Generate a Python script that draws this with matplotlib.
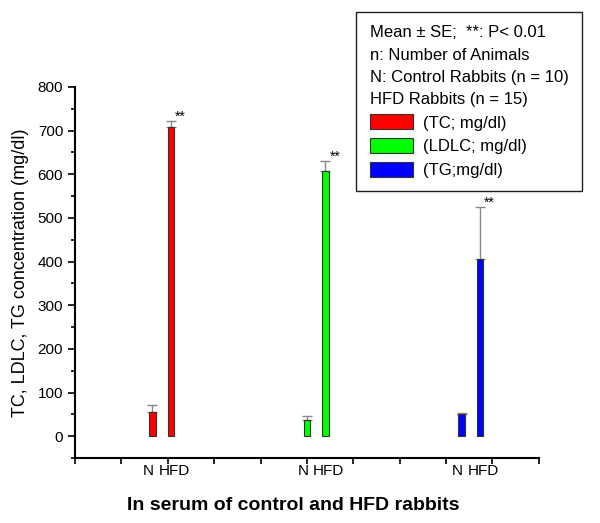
import numpy as np
import matplotlib
matplotlib.use('Agg')
from matplotlib import pyplot as plt
from matplotlib.patches import Patch

plt.rcParams['font.family'] = ['Liberation Sans', 'DejaVu Sans']

# ===== Dados =====
parametros = ['TC', 'LDLC', 'TG']
legenda = ['(TC; mg/dl)', '(LDLC; mg/dl)', '(TG;mg/dl)']
cores = ['#ff0000', '#00ff00', '#0000ff']

media_n = [55, 37, 50]        # controle (N)
erro_n = [16, 9, 3]
media_hfd = [707, 607, 405]   # HFD
erro_hfd = [14, 24, 121]

rotulos = ['N', 'HFD']
signif = '**'

# ===== Plotagem =====
fig = plt.figure(figsize=(6, 5.23), dpi=100)
ax = fig.add_axes([0.125, 0.124, 0.773, 0.710])

centros = np.array([5/3, 5, 25/3])
pos_n = centros
pos_hfd = centros + 0.4
larg = 0.14

for i in range(len(parametros)):
    for x, m, e in [(pos_n[i], media_n[i], erro_n[i]), (pos_hfd[i], media_hfd[i], erro_hfd[i])]:
        ax.bar(x, m, width=larg, color=cores[i], edgecolor='#333333', linewidth=0.8, zorder=3)
        ax.errorbar(x, m, yerr=[[0], [e]], fmt='none', ecolor='#888888', elinewidth=1,
                    capsize=3.5, capthick=1, zorder=2)
    # asteriscos acima das barras HFD
    ax.annotate(signif, (pos_hfd[i], media_hfd[i] + erro_hfd[i]), xytext=(3, -2),
                textcoords='offset points', ha='left', va='bottom', fontsize=10)
    # rótulos N / HFD abaixo do eixo
    ax.annotate(rotulos[0], (pos_n[i], 0), xycoords=('data', 'axes fraction'), xytext=(1, -4),
                textcoords='offset points', ha='right', va='top', fontsize=11)
    ax.annotate(rotulos[1], (pos_hfd[i], 0), xycoords=('data', 'axes fraction'), xytext=(-9, -4),
                textcoords='offset points', ha='left', va='top', fontsize=11)

ax.set_xlim(0, 10)
ax.set_ylim(-50, 800)
ax.set_xticks(np.arange(0, 11, 1))
ax.set_xticklabels([])
ax.set_yticks(np.arange(0, 801, 100))
ax.set_yticks(np.arange(-50, 801, 50), minor=True)
ax.tick_params(axis='y', which='major', direction='out', length=5, width=1.2, labelsize=11)
ax.tick_params(axis='y', which='minor', direction='out', length=3, width=1.2)
ax.tick_params(axis='x', which='major', direction='out', length=4, width=1.2)

for lado in ['top', 'right']:
    ax.spines[lado].set_visible(False)
for lado in ['left', 'bottom']:
    ax.spines[lado].set_linewidth(1.5)

ax.set_ylabel('TC, LDLC, TG concentration (mg/dl)', fontsize=13, labelpad=6)
ax.set_xlabel('In serum of control and HFD rabbits', fontsize=14, fontweight='bold')
ax.xaxis.set_label_coords(0.47, -0.105)

# Legenda
alcas = [Patch(facecolor=c, edgecolor='#333333', linewidth=0.8) for c in cores]
titulo = 'Mean ± SE;  **: P< 0.01\nn: Number of Animals\nN: Control Rabbits (n = 10)\nHFD Rabbits (n = 15)'
leg = ax.legend(alcas, legenda, title=titulo, title_fontsize=12, fontsize=12,
                loc='upper right', bbox_to_anchor=(582/600, 1 - 12/523), bbox_transform=fig.transFigure,
                borderaxespad=0, fancybox=False, edgecolor='#222222', framealpha=1, alignment='left',
                handlelength=2.6, handleheight=1.0, handletextpad=0.6, labelspacing=0.45,
                borderpad=0.8)
leg.get_frame().set_linewidth(1.0)
leg.get_title().set_linespacing(1.6)

fig.savefig('out.png', dpi=100)
